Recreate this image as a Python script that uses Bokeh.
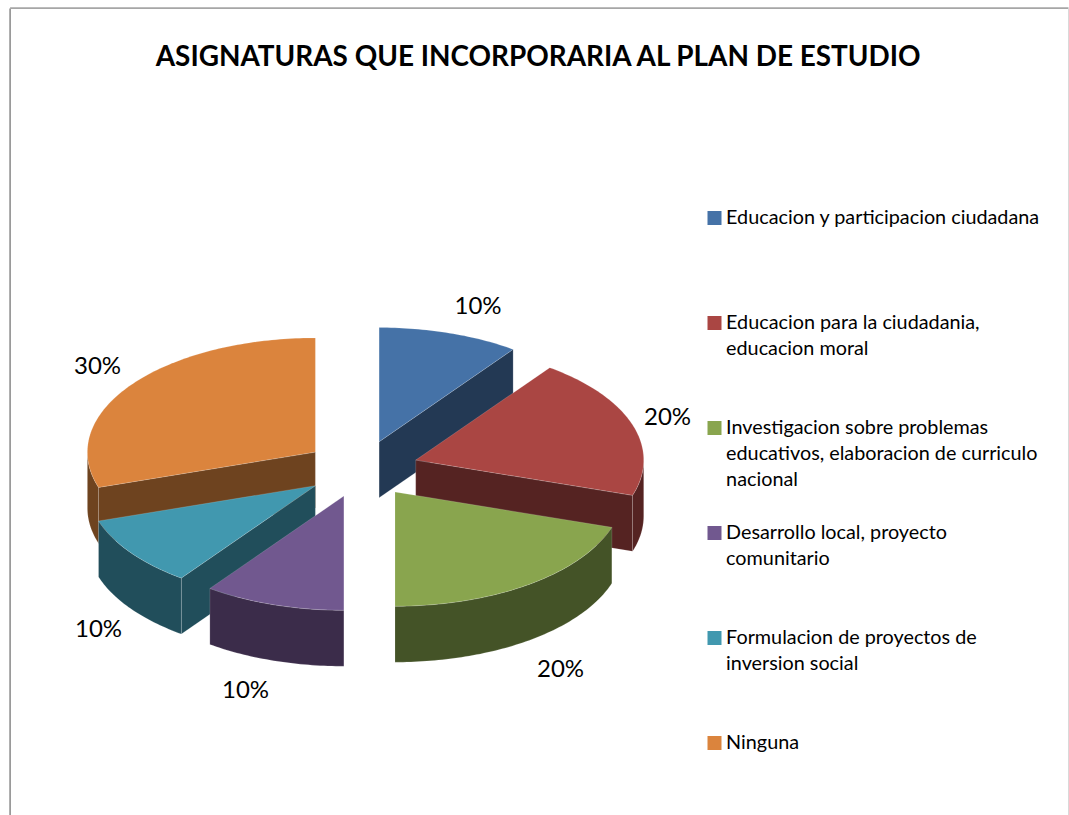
import numpy as np
from bokeh.core.properties import value
from bokeh.embed import file_html
from bokeh.models import ColumnDataSource, Range1d
from bokeh.plotting import figure
from bokeh.resources import INLINE

TITLE = "ASIGNATURAS QUE INCORPORARIA AL PLAN DE ESTUDIO"
categories = [
    "Educacion y participacion ciudadana",
    "Educacion para la ciudadania,\neducacion moral",
    "Investigacion sobre problemas\neducativos, elaboracion de curriculo\nnacional",
    "Desarrollo local, proyecto\ncomunitario",
    "Formulacion de proyectos de\ninversion social",
    "Ninguna",
]
percent = [10, 20, 20, 10, 10, 30]
top_colors = ["#4572a7", "#aa4643", "#89a54e", "#71588f", "#4198af", "#db843d"]
side_colors = ["#233954", "#552322", "#445327", "#3b2c4a", "#214e5b", "#6e431f"]

# layout, in page pixels of the picture
CX, CY, RX, RY, DEPTH, EXPLODE = 361.0, 468.4, 228.0, 114.2, 56.0, 0.25
label_pos = [(477.5, 304), (667, 415), (560, 667), (245, 688), (98, 627), (97, 364)]
FONT = "Lato"

W, H = 1069, 815
p = figure(width=W, height=H, output_backend="svg", toolbar_location=None,
           x_range=Range1d(0, W), y_range=Range1d(H, 0),
           x_axis_type=None, y_axis_type=None, min_border=0,
           outline_line_color=None, background_fill_color="white")
p.grid.visible = False

p.line([9.6, 9.6], [8, H], line_color="#8f8f8f", line_width=1.6)
p.line([9.6, 1068], [7.6, 7.6], line_color="#a6a6a6", line_width=1.6)
p.line([1068, 1068], [8, H], line_color="#d9d9d9", line_width=1)


def pt(ax, ay, deg, dz=0.0):
    t = np.radians(deg)
    return ax + RX * np.sin(t), ay - RY * np.cos(t) + dz


def arc(ax, ay, a, b, dz=0.0):
    n = max(2, int(abs(b - a)) + 1)
    return pt(ax, ay, np.linspace(a, b, n), dz)


edges = np.concatenate([[0], np.cumsum(percent)]) * 3.6
slices = []
for i, v in enumerate(percent):
    a, b = edges[i], edges[i + 1]
    mid = np.radians((a + b) / 2)
    ax = CX + EXPLODE * RX * np.sin(mid)
    ay = CY - EXPLODE * RY * np.cos(mid)
    slices.append((ay, i, a, b, ax))

xs, ys, fills = [], [], []
for ay, i, a, b, ax in sorted(slices):
    for edge, visible in ((a, np.sin(np.radians(a)) < -1e-6), (b, np.sin(np.radians(b)) > 1e-6)):
        if visible:
            ex, ey = pt(ax, ay, edge)
            xs.append([ax, ex, ex, ax])
            ys.append([ay, ey, ey + DEPTH, ay + DEPTH])
            fills.append(side_colors[i])
    lo, hi = max(a, 90), min(b, 270)
    if lo < hi:
        x1, y1 = arc(ax, ay, lo, hi)
        x2, y2 = arc(ax, ay, hi, lo, DEPTH)
        xs.append(list(x1) + list(x2))
        ys.append(list(y1) + list(y2))
        fills.append(side_colors[i])
    x1, y1 = arc(ax, ay, a, b)
    xs.append([ax] + list(x1))
    ys.append([ay] + list(y1))
    fills.append(top_colors[i])

p.patches("xs", "ys", fill_color="fills", line_color="#ffffff", line_alpha=0.22, line_width=0.7,
          source=ColumnDataSource(dict(xs=xs, ys=ys, fills=fills)))

p.text([539], [54], text=[TITLE], text_font=value(FONT), text_font_style="bold",
       text_font_size="27.9px", text_color="#000000", text_align="center", text_baseline="middle")

p.text([q[0] for q in label_pos], [q[1] for q in label_pos], text=[f"{v}%" for v in percent],
       text_font=value(FONT), text_font_size="24px", text_color="#000000",
       text_align="center", text_baseline="middle")

# legend
LEG_X, LEG_Y, LEG_STEP, LINE = 707, 217.5, 105.0, 26.0
sx, sy, tx, ty, tt = [], [], [], [], []
for i, c in enumerate(categories):
    y0 = LEG_Y + i * LEG_STEP
    sx.append(LEG_X + 7)
    sy.append(y0)
    for j, line in enumerate(c.split("\n")):
        tx.append(LEG_X + 18.6)
        ty.append(y0 - 2 + j * LINE)
        tt.append(line)
p.rect(sx, sy, width=14, height=14, fill_color=top_colors, line_color=None)
p.text(tx, ty, text=tt, text_font=value(FONT), text_font_size="19.8px", text_color="#000000",
       text_align="left", text_baseline="middle")

open("out.html", "w").write(file_html(p, INLINE))
